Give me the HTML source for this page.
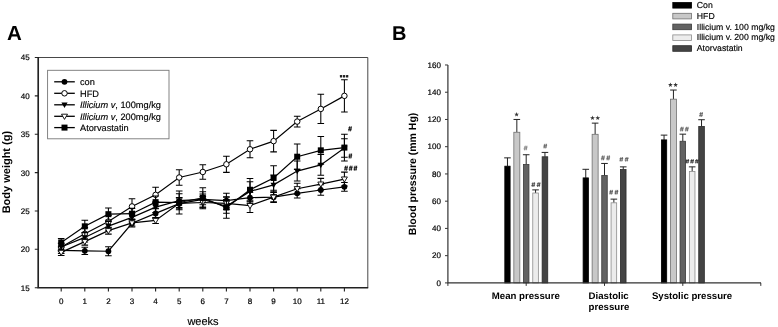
<!DOCTYPE html>
<html><head><meta charset="utf-8"><title>Figure</title>
<style>
html,body{margin:0;padding:0;background:#fff;}
body{width:778px;height:327px;overflow:hidden;font-family:"Liberation Sans",sans-serif;}
svg{display:block;text-rendering:geometricPrecision;filter:grayscale(1);font-family:"Liberation Sans",sans-serif;}
</style></head><body>
<svg width="778" height="327" viewBox="0 0 778 327">
<rect width="778" height="327" fill="#fff"/>
<g stroke="#222" fill="none">
<path d="M38.2 57.5H367.8V287.7" stroke-width="0.9" stroke="#333"/>
<path d="M38.2 56.9V287.7H368.2" stroke-width="1.65"/>
<path d="M34.8 287.69H38.2M34.8 249.32H38.2M34.8 210.96H38.2M34.8 172.59H38.2M34.8 134.23H38.2M34.8 95.87H38.2M34.8 57.50H38.2M61.20 287.7V291.5M84.80 287.7V291.5M108.40 287.7V291.5M132.00 287.7V291.5M155.60 287.7V291.5M179.20 287.7V291.5M202.80 287.7V291.5M226.40 287.7V291.5M250.00 287.7V291.5M273.60 287.7V291.5M297.20 287.7V291.5M320.80 287.7V291.5M344.40 287.7V291.5" stroke-width="1.1"/>
</g>
<g font-size="8" fill="#000" stroke="#000" stroke-width="0.2" text-anchor="end">
<text x="29.6" y="290.59">15</text>
<text x="29.6" y="252.22">20</text>
<text x="29.6" y="213.86">25</text>
<text x="29.6" y="175.50">30</text>
<text x="29.6" y="137.13">35</text>
<text x="29.6" y="98.77">40</text>
<text x="29.6" y="60.40">45</text>
</g>
<g font-size="8" fill="#000" stroke="#000" stroke-width="0.2" text-anchor="middle">
<text x="61.20" y="304">0</text>
<text x="84.80" y="304">1</text>
<text x="108.40" y="304">2</text>
<text x="132.00" y="304">3</text>
<text x="155.60" y="304">4</text>
<text x="179.20" y="304">5</text>
<text x="202.80" y="304">6</text>
<text x="226.40" y="304">7</text>
<text x="250.00" y="304">8</text>
<text x="273.60" y="304">9</text>
<text x="297.20" y="304">10</text>
<text x="320.80" y="304">11</text>
<text x="344.40" y="304">12</text>
</g>
<text x="203" y="324.8" font-size="11" fill="#000" stroke="#000" stroke-width="0.15" text-anchor="middle">weeks</text>
<text transform="translate(9.6 172.1) rotate(-90)" font-size="11" font-weight="bold" fill="#000" text-anchor="middle">Body weight (g)</text>
<text x="7.0" y="39.9" font-size="20.5" font-weight="bold" fill="#000">A</text>

<g stroke="#000" fill="none" stroke-width="1">
<g stroke-width="1.05">
<path d="M61.20 247.25V253.39M57.90 247.25H64.50M57.90 253.39H64.50"/>
<path d="M84.80 247.25V254.47M81.50 247.25H88.10M81.50 254.47H88.10"/>
<path d="M108.40 246.79V255.69M105.10 246.79H111.70M105.10 255.69H111.70"/>
<path d="M132.00 219.40V227.07M128.70 219.40H135.30M128.70 227.07H135.30"/>
<path d="M155.60 208.81V218.02M152.30 208.81H158.90M152.30 218.02H158.90"/>
<path d="M179.20 197.53V209.81M175.90 197.53H182.50M175.90 209.81H182.50"/>
<path d="M202.80 194.08V204.82M199.50 194.08H206.10M199.50 204.82H206.10"/>
<path d="M226.40 193.31V207.89M223.10 193.31H229.70M223.10 207.89H229.70"/>
<path d="M250.00 192.24V202.98M246.70 192.24H253.30M246.70 202.98H253.30"/>
<path d="M273.60 192.54V201.75M270.30 192.54H276.90M270.30 201.75H276.90"/>
<path d="M297.20 188.71V197.92M293.90 188.71H300.50M293.90 197.92H300.50"/>
<path d="M320.80 184.80V195.23M317.50 184.80H324.10M317.50 195.23H324.10"/>
<path d="M344.40 182.49V191.24M341.10 182.49H347.70M341.10 191.24H347.70"/>
</g>
<path d="M61.20 250.32L84.80 250.86L108.40 251.24L132.00 223.24L155.60 213.42L179.20 203.67L202.80 199.45L226.40 200.60L250.00 197.61L273.60 197.15L297.20 193.31L320.80 190.01L344.40 186.87" stroke-width="1.2"/>
<g stroke="none">
<circle cx="61.20" cy="250.32" r="2.9" fill="#000"/>
<circle cx="84.80" cy="250.86" r="2.9" fill="#000"/>
<circle cx="108.40" cy="251.24" r="2.9" fill="#000"/>
<circle cx="132.00" cy="223.24" r="2.9" fill="#000"/>
<circle cx="155.60" cy="213.42" r="2.9" fill="#000"/>
<circle cx="179.20" cy="203.67" r="2.9" fill="#000"/>
<circle cx="202.80" cy="199.45" r="2.9" fill="#000"/>
<circle cx="226.40" cy="200.60" r="2.9" fill="#000"/>
<circle cx="250.00" cy="197.61" r="2.9" fill="#000"/>
<circle cx="273.60" cy="197.15" r="2.9" fill="#000"/>
<circle cx="297.20" cy="193.31" r="2.9" fill="#000"/>
<circle cx="320.80" cy="190.01" r="2.9" fill="#000"/>
<circle cx="344.40" cy="186.87" r="2.9" fill="#000"/>
</g>
<g stroke-width="1.05">
<path d="M61.20 243.19V250.86M57.90 243.19H64.50M57.90 250.86H64.50"/>
<path d="M84.80 227.61V239.89M81.50 227.61H88.10M81.50 239.89H88.10"/>
<path d="M108.40 215.41V227.69M105.10 215.41H111.70M105.10 227.69H111.70"/>
<path d="M132.00 198.76V214.11M128.70 198.76H135.30M128.70 214.11H135.30"/>
<path d="M155.60 187.17V202.52M152.30 187.17H158.90M152.30 202.52H158.90"/>
<path d="M179.20 169.83V185.18M175.90 169.83H182.50M175.90 185.18H182.50"/>
<path d="M202.80 164.69V179.27M199.50 164.69H206.10M199.50 179.27H206.10"/>
<path d="M226.40 156.25V172.36M223.10 156.25H229.70M223.10 172.36H229.70"/>
<path d="M250.00 140.83V157.71M246.70 140.83H253.30M246.70 157.71H253.30"/>
<path d="M273.60 130.39V151.88M270.30 130.39H276.90M270.30 151.88H276.90"/>
<path d="M297.20 116.20V126.94M293.90 116.20H300.50M293.90 126.94H300.50"/>
<path d="M320.80 94.33V123.49M317.50 94.33H324.10M317.50 123.49H324.10"/>
<path d="M344.40 79.75V111.98M341.10 79.75H347.70M341.10 111.98H347.70"/>
</g>
<path d="M61.20 247.02L84.80 233.75L108.40 221.55L132.00 206.43L155.60 194.85L179.20 177.51L202.80 171.98L226.40 164.31L250.00 149.27L273.60 141.14L297.20 121.57L320.80 108.91L344.40 95.87" stroke-width="1.2"/>
<g stroke="none">
<circle cx="61.20" cy="247.02" r="2.75" fill="#fff" stroke="#000" stroke-width="1"/>
<circle cx="84.80" cy="233.75" r="2.75" fill="#fff" stroke="#000" stroke-width="1"/>
<circle cx="108.40" cy="221.55" r="2.75" fill="#fff" stroke="#000" stroke-width="1"/>
<circle cx="132.00" cy="206.43" r="2.75" fill="#fff" stroke="#000" stroke-width="1"/>
<circle cx="155.60" cy="194.85" r="2.75" fill="#fff" stroke="#000" stroke-width="1"/>
<circle cx="179.20" cy="177.51" r="2.75" fill="#fff" stroke="#000" stroke-width="1"/>
<circle cx="202.80" cy="171.98" r="2.75" fill="#fff" stroke="#000" stroke-width="1"/>
<circle cx="226.40" cy="164.31" r="2.75" fill="#fff" stroke="#000" stroke-width="1"/>
<circle cx="250.00" cy="149.27" r="2.75" fill="#fff" stroke="#000" stroke-width="1"/>
<circle cx="273.60" cy="141.14" r="2.75" fill="#fff" stroke="#000" stroke-width="1"/>
<circle cx="297.20" cy="121.57" r="2.75" fill="#fff" stroke="#000" stroke-width="1"/>
<circle cx="320.80" cy="108.91" r="2.75" fill="#fff" stroke="#000" stroke-width="1"/>
<circle cx="344.40" cy="95.87" r="2.75" fill="#fff" stroke="#000" stroke-width="1"/>
</g>
<g stroke-width="1.05">
<path d="M61.20 243.19V250.86M57.90 243.19H64.50M57.90 250.86H64.50"/>
<path d="M84.80 232.83V242.04M81.50 232.83H88.10M81.50 242.04H88.10"/>
<path d="M108.40 221.47V230.68M105.10 221.47H111.70M105.10 230.68H111.70"/>
<path d="M132.00 212.80V222.01M128.70 212.80H135.30M128.70 222.01H135.30"/>
<path d="M155.60 201.75V212.49M152.30 201.75H158.90M152.30 212.49H158.90"/>
<path d="M179.20 193.70V207.51M175.90 193.70H182.50M175.90 207.51H182.50"/>
<path d="M202.80 191.78V207.12M199.50 191.78H206.10M199.50 207.12H206.10"/>
<path d="M226.40 199.45V213.26M223.10 199.45H229.70M223.10 213.26H229.70"/>
<path d="M250.00 181.80V200.99M246.70 181.80H253.30M246.70 200.99H253.30"/>
<path d="M273.60 174.90V194.85M270.30 174.90H276.90M270.30 194.85H276.90"/>
<path d="M297.20 161.09V181.04M293.90 161.09H300.50M293.90 181.04H300.50"/>
<path d="M320.80 154.56V175.28M317.50 154.56H324.10M317.50 175.28H324.10"/>
<path d="M344.40 138.83V157.25M341.10 138.83H347.70M341.10 157.25H347.70"/>
</g>
<path d="M61.20 247.02L84.80 237.43L108.40 226.08L132.00 217.41L155.60 207.12L179.20 200.60L202.80 199.45L226.40 206.36L250.00 191.39L273.60 184.87L297.20 171.06L320.80 164.92L344.40 148.04" stroke-width="1.2"/>
<g stroke="none">
<path d="M58.10 244.82H64.30L61.20 250.32Z" fill="#000"/>
<path d="M81.70 235.23H87.90L84.80 240.73Z" fill="#000"/>
<path d="M105.30 223.88H111.50L108.40 229.38Z" fill="#000"/>
<path d="M128.90 215.21H135.10L132.00 220.71Z" fill="#000"/>
<path d="M152.50 204.92H158.70L155.60 210.42Z" fill="#000"/>
<path d="M176.10 198.40H182.30L179.20 203.90Z" fill="#000"/>
<path d="M199.70 197.25H205.90L202.80 202.75Z" fill="#000"/>
<path d="M223.30 204.16H229.50L226.40 209.66Z" fill="#000"/>
<path d="M246.90 189.19H253.10L250.00 194.69Z" fill="#000"/>
<path d="M270.50 182.67H276.70L273.60 188.17Z" fill="#000"/>
<path d="M294.10 168.86H300.30L297.20 174.36Z" fill="#000"/>
<path d="M317.70 162.72H323.90L320.80 168.22Z" fill="#000"/>
<path d="M341.30 145.84H347.50L344.40 151.34Z" fill="#000"/>
</g>
<g stroke-width="1.05">
<path d="M61.20 249.32V255.46M57.90 249.32H64.50M57.90 255.46H64.50"/>
<path d="M84.80 238.20V245.10M81.50 238.20H88.10M81.50 245.10H88.10"/>
<path d="M108.40 227.23V234.13M105.10 227.23H111.70M105.10 234.13H111.70"/>
<path d="M132.00 219.86V226.00M128.70 219.86H135.30M128.70 226.00H135.30"/>
<path d="M155.60 217.41V223.54M152.30 217.41H158.90M152.30 223.54H158.90"/>
<path d="M179.20 197.92V208.66M175.90 197.92H182.50M175.90 208.66H182.50"/>
<path d="M202.80 196.38V208.66M199.50 196.38H206.10M199.50 208.66H206.10"/>
<path d="M226.40 197.15V209.43M223.10 197.15H229.70M223.10 209.43H229.70"/>
<path d="M250.00 198.68V212.49M246.70 198.68H253.30M246.70 212.49H253.30"/>
<path d="M273.60 191.78V202.52M270.30 191.78H276.90M270.30 202.52H276.90"/>
<path d="M297.20 183.34V194.08M293.90 183.34H300.50M293.90 194.08H300.50"/>
<path d="M320.80 178.35V189.86M317.50 178.35H324.10M317.50 189.86H324.10"/>
<path d="M344.40 172.13V185.95M341.10 172.13H347.70M341.10 185.95H347.70"/>
</g>
<path d="M61.20 252.39L84.80 241.65L108.40 230.68L132.00 222.93L155.60 220.47L179.20 203.29L202.80 202.52L226.40 203.29L250.00 205.59L273.60 197.15L297.20 188.71L320.80 184.10L344.40 179.04" stroke-width="1.2"/>
<g stroke="none">
<path d="M58.20 250.29H64.20L61.20 255.49Z" fill="#fff" stroke="#000" stroke-width="0.9"/>
<path d="M81.80 239.55H87.80L84.80 244.75Z" fill="#fff" stroke="#000" stroke-width="0.9"/>
<path d="M105.40 228.58H111.40L108.40 233.78Z" fill="#fff" stroke="#000" stroke-width="0.9"/>
<path d="M129.00 220.83H135.00L132.00 226.03Z" fill="#fff" stroke="#000" stroke-width="0.9"/>
<path d="M152.60 218.37H158.60L155.60 223.57Z" fill="#fff" stroke="#000" stroke-width="0.9"/>
<path d="M176.20 201.19H182.20L179.20 206.39Z" fill="#fff" stroke="#000" stroke-width="0.9"/>
<path d="M199.80 200.42H205.80L202.80 205.62Z" fill="#fff" stroke="#000" stroke-width="0.9"/>
<path d="M223.40 201.19H229.40L226.40 206.39Z" fill="#fff" stroke="#000" stroke-width="0.9"/>
<path d="M247.00 203.49H253.00L250.00 208.69Z" fill="#fff" stroke="#000" stroke-width="0.9"/>
<path d="M270.60 195.05H276.60L273.60 200.25Z" fill="#fff" stroke="#000" stroke-width="0.9"/>
<path d="M294.20 186.61H300.20L297.20 191.81Z" fill="#fff" stroke="#000" stroke-width="0.9"/>
<path d="M317.80 182.00H323.80L320.80 187.20Z" fill="#fff" stroke="#000" stroke-width="0.9"/>
<path d="M341.40 176.94H347.40L344.40 182.14Z" fill="#fff" stroke="#000" stroke-width="0.9"/>
</g>
<g stroke-width="1.05">
<path d="M61.20 238.58V246.26M57.90 238.58H64.50M57.90 246.26H64.50"/>
<path d="M84.80 220.17V232.44M81.50 220.17H88.10M81.50 232.44H88.10"/>
<path d="M108.40 208.04V220.32M105.10 208.04H111.70M105.10 220.32H111.70"/>
<path d="M132.00 208.35V219.09M128.70 208.35H135.30M128.70 219.09H135.30"/>
<path d="M155.60 196.00V208.27M152.30 196.00H158.90M152.30 208.27H158.90"/>
<path d="M179.20 191.01V214.03M175.90 191.01H182.50M175.90 214.03H182.50"/>
<path d="M202.80 187.79V207.74M199.50 187.79H206.10M199.50 207.74H206.10"/>
<path d="M226.40 196.76V218.25M223.10 196.76H229.70M223.10 218.25H229.70"/>
<path d="M250.00 178.43V201.14M246.70 178.43H253.30M246.70 201.14H253.30"/>
<path d="M273.60 165.69V190.24M270.30 165.69H276.90M270.30 190.24H276.90"/>
<path d="M297.20 144.05V169.37M293.90 144.05H300.50M293.90 169.37H300.50"/>
<path d="M320.80 136.53V164.15M317.50 136.53H324.10M317.50 164.15H324.10"/>
<path d="M344.40 134.15V161.01M341.10 134.15H347.70M341.10 161.01H347.70"/>
</g>
<path d="M61.20 242.42L84.80 226.31L108.40 214.18L132.00 213.72L155.60 202.14L179.20 202.52L202.80 197.76L226.40 207.51L250.00 189.78L273.60 177.97L297.20 156.71L320.80 150.34L344.40 147.58" stroke-width="1.2"/>
<g stroke="none">
<rect x="58.20" y="239.42" width="6" height="6" fill="#000"/>
<rect x="81.80" y="223.31" width="6" height="6" fill="#000"/>
<rect x="105.40" y="211.18" width="6" height="6" fill="#000"/>
<rect x="129.00" y="210.72" width="6" height="6" fill="#000"/>
<rect x="152.60" y="199.14" width="6" height="6" fill="#000"/>
<rect x="176.20" y="199.52" width="6" height="6" fill="#000"/>
<rect x="199.80" y="194.76" width="6" height="6" fill="#000"/>
<rect x="223.40" y="204.51" width="6" height="6" fill="#000"/>
<rect x="247.00" y="186.78" width="6" height="6" fill="#000"/>
<rect x="270.60" y="174.97" width="6" height="6" fill="#000"/>
<rect x="294.20" y="153.71" width="6" height="6" fill="#000"/>
<rect x="317.80" y="147.34" width="6" height="6" fill="#000"/>
<rect x="341.40" y="144.58" width="6" height="6" fill="#000"/>
</g>
</g>
<rect x="47.6" y="70.3" width="121.4" height="68.5" fill="#fff" stroke="#777" stroke-width="0.9"/>
<path d="M54.2 81.8H74.8" stroke="#000" stroke-width="1.3"/>
<circle cx="64.50" cy="81.80" r="2.9" fill="#000"/>
<text x="80" y="85.30" font-size="9.22" fill="#000" stroke="#000" stroke-width="0.15">con</text>
<path d="M54.2 93.3H74.8" stroke="#000" stroke-width="1.3"/>
<circle cx="64.50" cy="93.30" r="2.75" fill="#fff" stroke="#000" stroke-width="1"/>
<text x="80" y="96.80" font-size="9.22" fill="#000" stroke="#000" stroke-width="0.15">HFD</text>
<path d="M54.2 104.8H74.8" stroke="#000" stroke-width="1.3"/>
<path d="M61.40 102.60H67.60L64.50 108.10Z" fill="#000"/>
<text x="80" y="108.30" font-size="9.22" fill="#000" stroke="#000" stroke-width="0.15"><tspan font-style="italic">Illicium v</tspan>, 100mg/kg</text>
<path d="M54.2 116.3H74.8" stroke="#000" stroke-width="1.3"/>
<path d="M61.50 114.20H67.50L64.50 119.40Z" fill="#fff" stroke="#000" stroke-width="0.9"/>
<text x="80" y="119.80" font-size="9.22" fill="#000" stroke="#000" stroke-width="0.15"><tspan font-style="italic">Illicium v</tspan>, 200mg/kg</text>
<path d="M54.2 127.6H74.8" stroke="#000" stroke-width="1.3"/>
<rect x="61.50" y="124.60" width="6" height="6" fill="#000"/>
<text x="80" y="131.10" font-size="9.22" fill="#000" stroke="#000" stroke-width="0.15">Atorvastatin</text>
<rect x="339.90" y="74.9" width="2.3" height="2.5" rx="0.5" fill="#222"/>
<rect x="342.95" y="74.9" width="2.3" height="2.5" rx="0.5" fill="#222"/>
<rect x="346.00" y="74.9" width="2.3" height="2.5" rx="0.5" fill="#222"/>
<path d="M348.90 131.30L349.70 126.30M350.50 131.30L351.30 126.30M348.35 127.90H351.90M348.00 129.70H351.55" stroke="#111" stroke-width="0.9" fill="none"/>
<path d="M349.20 158.50L350.00 153.50M350.80 158.50L351.60 153.50M348.65 155.10H352.20M348.30 156.90H351.85" stroke="#111" stroke-width="0.9" fill="none"/>
<path d="M344.90 170.70L345.70 165.70M346.50 170.70L347.30 165.70M344.35 167.30H347.90M344.00 169.10H347.55M349.60 170.70L350.40 165.70M351.20 170.70L352.00 165.70M349.05 167.30H352.60M348.70 169.10H352.25M354.30 170.70L355.10 165.70M355.90 170.70L356.70 165.70M353.75 167.30H357.30M353.40 169.10H356.95" stroke="#111" stroke-width="0.9" fill="none"/>
<path d="M507.46 166.18V157.87M504.16 157.87H510.76" stroke="#222" stroke-width="1" fill="none"/>
<rect x="504.81" y="166.18" width="5.3" height="116.72" fill="#000" stroke="#000" stroke-width="0.8"/>
<path d="M516.83 132.26V119.46M513.53 119.46H520.13" stroke="#222" stroke-width="1" fill="none"/>
<rect x="513.83" y="132.26" width="6.0" height="150.64" fill="#c8c8c8" stroke="#707070" stroke-width="0.8"/>
<path d="M526.20 164.41V154.74M522.90 154.74H529.50" stroke="#222" stroke-width="1" fill="none"/>
<rect x="523.45" y="164.41" width="5.5" height="118.49" fill="#626262" stroke="#3a3a3a" stroke-width="0.8"/>
<path d="M535.57 193.01V189.88M532.27 189.88H538.87" stroke="#222" stroke-width="1" fill="none"/>
<rect x="532.77" y="193.01" width="5.6" height="89.89" fill="#ececec" stroke="#8c8c8c" stroke-width="0.8"/>
<path d="M544.94 156.78V152.42M541.64 152.42H548.24" stroke="#222" stroke-width="1" fill="none"/>
<rect x="542.14" y="156.78" width="5.6" height="126.12" fill="#444" stroke="#2a2a2a" stroke-width="0.8"/>
<path d="M585.76 177.89V169.31M582.46 169.31H589.06" stroke="#222" stroke-width="1" fill="none"/>
<rect x="583.11" y="177.89" width="5.3" height="105.01" fill="#000" stroke="#000" stroke-width="0.8"/>
<path d="M595.13 134.31V123.14M591.83 123.14H598.43" stroke="#222" stroke-width="1" fill="none"/>
<rect x="592.13" y="134.31" width="6.0" height="148.59" fill="#c8c8c8" stroke="#707070" stroke-width="0.8"/>
<path d="M604.50 175.44V163.45M601.20 163.45H607.80" stroke="#222" stroke-width="1" fill="none"/>
<rect x="601.75" y="175.44" width="5.5" height="107.46" fill="#626262" stroke="#3a3a3a" stroke-width="0.8"/>
<path d="M613.87 202.81V199.14M610.57 199.14H617.17" stroke="#222" stroke-width="1" fill="none"/>
<rect x="611.07" y="202.81" width="5.6" height="80.09" fill="#ececec" stroke="#8c8c8c" stroke-width="0.8"/>
<path d="M623.24 169.58V166.86M619.94 166.86H626.54" stroke="#222" stroke-width="1" fill="none"/>
<rect x="620.44" y="169.58" width="5.6" height="113.32" fill="#444" stroke="#2a2a2a" stroke-width="0.8"/>
<path d="M664.06 139.89V135.12M660.76 135.12H667.36" stroke="#222" stroke-width="1" fill="none"/>
<rect x="661.41" y="139.89" width="5.3" height="143.01" fill="#000" stroke="#000" stroke-width="0.8"/>
<path d="M673.43 99.17V90.04M670.13 90.04H676.73" stroke="#222" stroke-width="1" fill="none"/>
<rect x="670.43" y="99.17" width="6.0" height="183.73" fill="#c8c8c8" stroke="#707070" stroke-width="0.8"/>
<path d="M682.80 141.25V134.17M679.50 134.17H686.10" stroke="#222" stroke-width="1" fill="none"/>
<rect x="680.05" y="141.25" width="5.5" height="141.65" fill="#626262" stroke="#3a3a3a" stroke-width="0.8"/>
<path d="M692.17 171.49V166.86M688.87 166.86H695.47" stroke="#222" stroke-width="1" fill="none"/>
<rect x="689.37" y="171.49" width="5.6" height="111.41" fill="#ececec" stroke="#8c8c8c" stroke-width="0.8"/>
<path d="M701.54 126.41V119.73M698.24 119.73H704.84" stroke="#222" stroke-width="1" fill="none"/>
<rect x="698.74" y="126.41" width="5.6" height="156.49" fill="#444" stroke="#2a2a2a" stroke-width="0.8"/>
<g stroke="#333" fill="none" stroke-width="1.2">
<path d="M447.9 65V282.9H761"/>
<path d="M445 282.90H447.9M445 255.66H447.9M445 228.42H447.9M445 201.18H447.9M445 173.94H447.9M445 146.70H447.9M445 119.46H447.9M445 92.22H447.9M445 64.98H447.9M447.9 282.9V285.9M526.2 282.9V285.9M604.5 282.9V285.9M682.8 282.9V285.9M760.8 282.9V285.9" stroke-width="1"/>
</g>
<g font-size="8" fill="#000" stroke="#000" stroke-width="0.2" text-anchor="end">
<text x="440.9" y="285.50">0</text>
<text x="440.9" y="258.26">20</text>
<text x="440.9" y="231.02">40</text>
<text x="440.9" y="203.78">60</text>
<text x="440.9" y="176.54">80</text>
<text x="440.9" y="149.30">100</text>
<text x="440.9" y="122.06">120</text>
<text x="440.9" y="94.82">140</text>
<text x="440.9" y="67.58">160</text>
</g>
<text transform="translate(415.9 173.9) rotate(-90)" font-size="10.5" font-weight="bold" fill="#000" text-anchor="middle">Blood pressure (mm Hg)</text>
<text x="392" y="40" font-size="20" font-weight="bold" fill="#000">B</text>
<g font-size="9.65" font-weight="bold" fill="#000">
<text x="525.8" y="298.9" text-anchor="middle">Mean pressure</text>
<text x="588.6" y="298.9">Diastolic</text>
<text x="588.6" y="309.7">pressure</text>
<text x="692" y="298.9" text-anchor="middle">Systolic pressure</text>
</g>
<rect x="672.8" y="2.50" width="18.8" height="5.6" fill="#000" stroke="#000" stroke-width="0.8"/>
<text x="696.8" y="7.90" font-size="8.7" fill="#000" stroke="#000" stroke-width="0.15">Con</text>
<rect x="672.8" y="13.30" width="18.8" height="5.6" fill="#c8c8c8" stroke="#707070" stroke-width="0.8"/>
<text x="696.8" y="18.70" font-size="8.7" fill="#000" stroke="#000" stroke-width="0.15">HFD</text>
<rect x="672.8" y="24.10" width="18.8" height="5.6" fill="#626262" stroke="#3a3a3a" stroke-width="0.8"/>
<text x="696.8" y="29.50" font-size="8.7" fill="#000" stroke="#000" stroke-width="0.15">Illicium v. 100 mg/kg</text>
<rect x="672.8" y="34.90" width="18.8" height="5.6" fill="#ececec" stroke="#8c8c8c" stroke-width="0.8"/>
<text x="696.8" y="40.30" font-size="8.7" fill="#000" stroke="#000" stroke-width="0.15">Illicium v. 200 mg/kg</text>
<rect x="672.8" y="45.70" width="18.8" height="5.6" fill="#444" stroke="#2a2a2a" stroke-width="0.8"/>
<text x="696.8" y="51.10" font-size="8.7" fill="#000" stroke="#000" stroke-width="0.15">Atorvastatin</text>
<path d="M524.50 150.30L525.30 145.70M526.10 150.30L526.90 145.70M523.95 147.17H527.50M523.60 148.83H527.15" stroke="#808080" stroke-width="0.85" fill="none"/>
<path d="M532.20 186.90L533.00 182.30M533.80 186.90L534.60 182.30M531.65 183.77H535.20M531.30 185.43H534.85M537.50 186.90L538.30 182.30M539.10 186.90L539.90 182.30M536.95 183.77H540.50M536.60 185.43H540.15" stroke="#444" stroke-width="0.85" fill="none"/>
<path d="M544.10 148.40L544.90 143.80M545.70 148.40L546.50 143.80M543.55 145.27H547.10M543.20 146.93H546.75" stroke="#606060" stroke-width="0.85" fill="none"/>
<path d="M601.80 160.30L602.60 155.50M603.40 160.30L604.20 155.50M601.25 157.04H604.80M600.90 158.76H604.45M607.10 160.30L607.90 155.50M608.70 160.30L609.50 155.50M606.55 157.04H610.10M606.20 158.76H609.75" stroke="#606060" stroke-width="0.85" fill="none"/>
<path d="M610.00 194.50L610.80 189.90M611.60 194.50L612.40 189.90M609.45 191.37H613.00M609.10 193.03H612.65M615.30 194.50L616.10 189.90M616.90 194.50L617.70 189.90M614.75 191.37H618.30M614.40 193.03H617.95" stroke="#555" stroke-width="0.85" fill="none"/>
<path d="M620.20 161.50L621.00 157.10M621.80 161.50L622.60 157.10M619.65 158.51H623.20M619.30 160.09H622.85M625.50 161.50L626.30 157.10M627.10 161.50L627.90 157.10M624.95 158.51H628.50M624.60 160.09H628.15" stroke="#606060" stroke-width="0.85" fill="none"/>
<path d="M680.70 131.40L681.50 126.80M682.30 131.40L683.10 126.80M680.15 128.27H683.70M679.80 129.93H683.35M685.70 131.40L686.50 126.80M687.30 131.40L688.10 126.80M685.15 128.27H688.70M684.80 129.93H688.35" stroke="#606060" stroke-width="0.85" fill="none"/>
<path d="M686.20 163.40L687.00 159.20M687.80 163.40L688.60 159.20M685.65 160.54H689.20M685.30 162.06H688.85M690.95 163.40L691.75 159.20M692.55 163.40L693.35 159.20M690.40 160.54H693.95M690.05 162.06H693.60M695.70 163.40L696.50 159.20M697.30 163.40L698.10 159.20M695.15 160.54H698.70M694.80 162.06H698.35" stroke="#333" stroke-width="0.85" fill="none"/>
<path d="M700.00 116.90L700.80 112.10M701.60 116.90L702.40 112.10M699.45 113.64H703.00M699.10 115.36H702.65" stroke="#606060" stroke-width="0.85" fill="none"/>
<polygon points="516.60,112.00 517.19,113.69 518.98,113.73 517.55,114.81 518.07,116.52 516.60,115.50 515.13,116.52 515.65,114.81 514.22,113.73 516.01,113.69" fill="#333"/>
<polygon points="592.50,115.60 593.09,117.29 594.88,117.33 593.45,118.41 593.97,120.12 592.50,119.10 591.03,120.12 591.55,118.41 590.12,117.33 591.91,117.29" fill="#333"/>
<polygon points="597.75,115.60 598.34,117.29 600.13,117.33 598.70,118.41 599.22,120.12 597.75,119.10 596.28,120.12 596.80,118.41 595.37,117.33 597.16,117.29" fill="#333"/>
<polygon points="670.40,82.40 670.99,84.09 672.78,84.13 671.35,85.21 671.87,86.92 670.40,85.90 668.93,86.92 669.45,85.21 668.02,84.13 669.81,84.09" fill="#333"/>
<polygon points="675.60,82.40 676.19,84.09 677.98,84.13 676.55,85.21 677.07,86.92 675.60,85.90 674.13,86.92 674.65,85.21 673.22,84.13 675.01,84.09" fill="#333"/>
</svg>
</body></html>
